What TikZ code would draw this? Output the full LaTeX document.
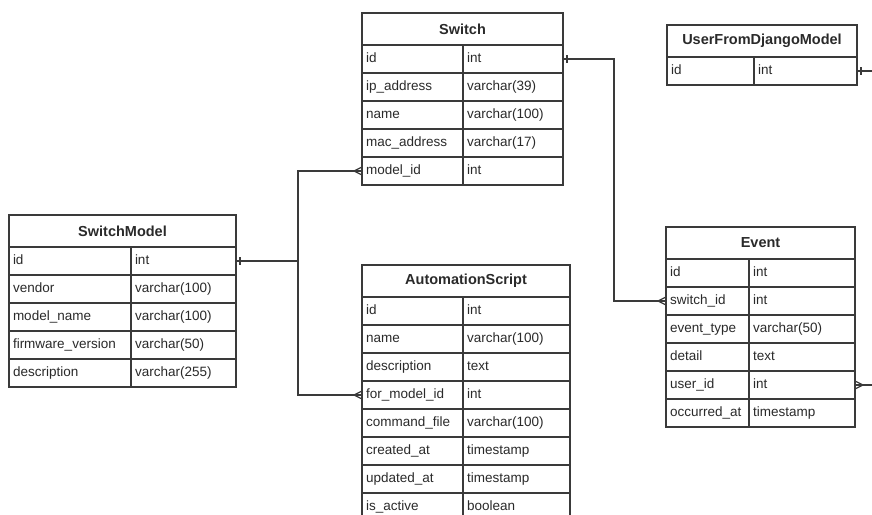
\documentclass[tikz,border=0pt]{standalone}
\usepackage{fontspec}
\setmainfont{Liberation Sans}
\usetikzlibrary{calc}
\definecolor{ln}{HTML}{3A3A3A}
\definecolor{tx}{HTML}{2A2A2A}
\tikzset{
  hdr/.style={draw=ln, line width=1.2pt, minimum height=32pt, inner sep=0pt, outer sep=0pt, font=\fontsize{14.5}{16}\selectfont\bfseries, text=tx, anchor=north west},
  cell/.style={draw=ln, line width=1.2pt, minimum height=28pt, inner xsep=4pt, inner ysep=0pt, outer sep=0pt, text height=10pt, text depth=3pt, font=\fontsize{13.5}{15}\selectfont, text=tx, align=left, anchor=north west},
  conn/.style={draw=ln, line width=1.2pt},
}
\newcommand\ertable[7]{%
  \pgfmathsetmacro\ertW{#4+#5}%
  \pgfmathsetmacro\ertA{#4-8}%
  \pgfmathsetmacro\ertB{#5-8}%
  \node[hdr, minimum width=\ertW pt] (#1) at (#2,#3) {#6};
  \foreach \f/\t [count=\i] in {#7} {
    \node[cell, text width=\ertA pt] (#1-\i) at (#2,{#3+32+28*(\i-1)}) {\f};
    \node[cell, text width=\ertB pt] (#1-\i-t) at ({#2+#4},{#3+32+28*(\i-1)}) {\t};
  }
}
\newcommand\onebar[2]{\draw[conn] ($(#1)+(#2,-4)$) -- ($(#1)+(#2,4)$);}
\newcommand\crowfoot[2]{\draw[conn] ($(#1)+(#2,0)$) -- ($(#1)+(0,-4)$) ($(#1)+(#2,0)$) -- ($(#1)+(0,4)$);}
\begin{document}
\begin{tikzpicture}[x=1pt,y=-1pt]
\useasboundingbox (0,0) rectangle (872,514);
\clip (0,0) rectangle (872,514);
\fill[white] (0,0) rectangle (872,514);
\ertable{sw}{362}{13}{101}{100}{Switch}{id/int, ip\_address/varchar(39), name/varchar(100), mac\_address/varchar(17), model\_id/int}
\ertable{us}{667}{25}{87}{103}{UserFromDjangoModel}{id/int}
\ertable{sm}{9}{215}{122}{105}{SwitchModel}{id/int, vendor/varchar(100), model\_name/varchar(100), firmware\_version/varchar(50), description/varchar(255)}
\ertable{as}{362}{265}{101}{107}{AutomationScript}{id/int, name/varchar(100), description/text, for\_model\_id/int, command\_file/varchar(100), created\_at/timestamp, updated\_at/timestamp, is\_active/boolean}
\ertable{ev}{666}{227}{83}{106}{Event}{id/int, switch\_id/int, event\_type/varchar(50), detail/text, user\_id/int, occurred\_at/timestamp}
\coordinate (busA) at (298,0);
\coordinate (busB) at (614,0);
\coordinate (busC) at (900,0);
\draw[conn] (sm-1-t.east) -- (sm-1-t.east -| busA) |- (sw-5.west);
\draw[conn] (sm-1-t.east -| busA) |- (as-4.west);
\draw[conn] (sw-1-t.east) -- (sw-1-t.east -| busB) |- (ev-2.west);
\draw[conn] (us-1-t.east) -- (us-1-t.east -| busC) |- (ev-5-t.east);
\onebar{sm-1-t.east}{4}
\crowfoot{sw-5.west}{-8}
\crowfoot{as-4.west}{-8}
\onebar{sw-1-t.east}{4}
\crowfoot{ev-2.west}{-8}
\onebar{us-1-t.east}{4}
\crowfoot{ev-5-t.east}{8}
\end{tikzpicture}
\end{document}
